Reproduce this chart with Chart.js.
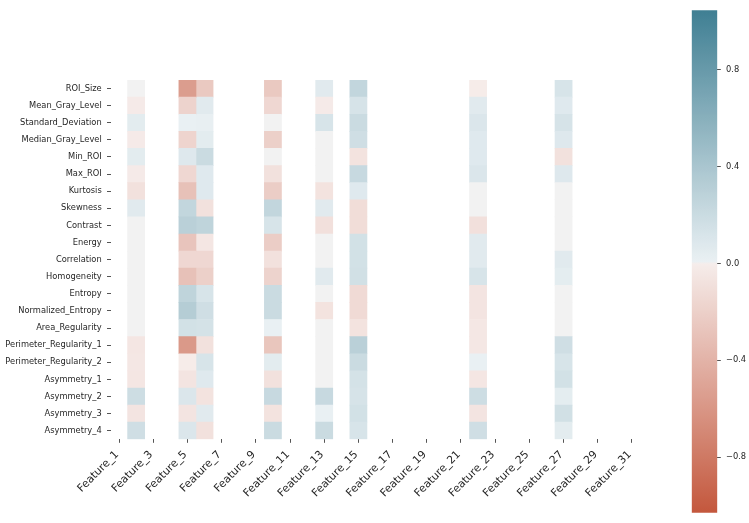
<!DOCTYPE html>
<html><head><meta charset="utf-8">
<script src="https://cdn.jsdelivr.net/npm/chart.js@4.4.1/dist/chart.umd.min.js"></script>
<style>
html,body{margin:0;padding:0;background:#fff;}
#wrap{position:relative;width:749px;height:523px;overflow:hidden;}
#heat{position:absolute;left:0;top:0;}
#cbar{position:absolute;left:680px;top:0;}
</style></head><body>
<div id="wrap">
<canvas id="heat" width="749" height="523"></canvas>
<canvas id="cbar" width="69" height="523"></canvas>
</div>
<script>
// ---- categories ----
const features = ['Feature_1','Feature_2','Feature_3','Feature_4','Feature_5','Feature_6','Feature_7','Feature_8',
  'Feature_9','Feature_10','Feature_11','Feature_12','Feature_13','Feature_14','Feature_15','Feature_16',
  'Feature_17','Feature_18','Feature_19','Feature_20','Feature_21','Feature_22','Feature_23','Feature_24',
  'Feature_25','Feature_26','Feature_27','Feature_28','Feature_29','Feature_30','Feature_31'];
const rowLabels = ['ROI_Size','Mean_Gray_Level','Standard_Deviation','Median_Gray_Level','Min_ROI','Max_ROI',
  'Kurtosis','Skewness','Contrast','Energy','Correlation','Homogeneity','Entropy','Normalized_Entropy',
  'Area_Regularity','Perimeter_Regularity_1','Perimeter_Regularity_2','Asymmetry_1','Asymmetry_2',
  'Asymmetry_3','Asymmetry_4'];
const xTickLabels = ['Feature_1','Feature_3','Feature_5','Feature_7','Feature_9','Feature_11','Feature_13',
  'Feature_15','Feature_17','Feature_19','Feature_21','Feature_23','Feature_25','Feature_27','Feature_29','Feature_31'];

// ---- series values (one per non-empty feature column, rows in rowLabels order) ----
const dataColumns = ['Feature_2','Feature_5','Feature_6','Feature_10','Feature_13','Feature_15','Feature_22','Feature_27'];
const feature_2  = [0, -0.02, 0.05, -0.02, 0.05, -0.02, -0.08, 0.06, 0, 0, 0, 0, 0, 0, 0, -0.05, -0.04, -0.05, 0.18, -0.06, 0.17];
const feature_5  = [-0.55, -0.18, 0.01, -0.17, 0.08, -0.15, -0.3, 0.25, 0.3, -0.28, -0.15, -0.3, 0.27, 0.33, 0.15, -0.58, -0.01, -0.06, 0.1, -0.06, 0.1];
const feature_6  = [-0.25, 0.06, 0.02, 0.05, 0.2, 0.07, 0.07, -0.08, 0.27, -0.05, -0.15, -0.2, 0.12, 0.17, 0.14, -0.08, 0.12, 0.07, -0.07, 0.06, -0.08];
const feature_10 = [-0.25, -0.15, 0, -0.2, 0, -0.08, -0.22, 0.25, 0.12, -0.22, -0.08, -0.18, 0.2, 0.2, 0.01, -0.27, 0.05, -0.08, 0.22, -0.07, 0.2];
const feature_13 = [0.06, -0.02, 0.12, 0, 0, 0, -0.07, 0.06, -0.09, 0, 0, 0.06, 0, -0.07, 0, 0, 0, 0, 0.22, 0.01, 0.2];
const feature_15 = [0.25, 0.13, 0.2, 0.17, -0.07, 0.22, 0.07, -0.11, -0.11, 0.15, 0.15, 0.16, -0.13, -0.13, -0.07, 0.3, 0.2, 0.14, 0.13, 0.15, 0.12];
const feature_22 = [-0.01, 0.06, 0.1, 0.07, 0.07, 0.1, 0, 0, -0.09, 0.06, 0.06, 0.12, -0.06, -0.06, -0.04, -0.04, 0.01, -0.05, 0.18, -0.06, 0.17];
const feature_27 = [0.12, 0.07, 0.13, 0.08, -0.08, 0.08, 0, 0, 0, 0, 0.06, 0.04, 0, 0, 0, 0.17, 0.12, 0.15, 0.04, 0.16, 0.05];
const columnValues = [feature_2, feature_5, feature_6, feature_10, feature_13, feature_15, feature_22, feature_27];

// ---- colorbar ticks ----
const cbTicks = [0.8, 0.4, 0.0, -0.4, -0.8];
const cbTickLabels = ['0.8', '0.4', '0.0', '\u22120.4', '\u22120.8'];
const cbMin = -1.03, cbMax = 1.046;

// ---- colormap (diverging, red -> light gray -> teal blue) ----
const NEG_END = [195, 85, 58], NEG_LIGHT = [246, 237, 235], MID = [242, 242, 242],
      POS_LIGHT = [235, 241, 244], POS_END = [63, 127, 147];
const VRANGE = 1.046;
function colorFor(v) {
  if (Math.abs(v) < 1e-9) return `rgb(${MID.join(',')})`;
  const t = Math.min(Math.abs(v) / VRANGE, 1);
  const a = v > 0 ? POS_LIGHT : NEG_LIGHT, b = v > 0 ? POS_END : NEG_END;
  const c = a.map((x, i) => Math.round(x + (b[i] - x) * t));
  return `rgb(${c.join(',')})`;
}

const FONT_Y = {family: "'DejaVu Sans', sans-serif", size: 8.3};
const FONT_X = {family: "'DejaVu Sans', sans-serif", size: 10.8};
const TXT = '#262626';
const TICKC = '#555';

const datasets = dataColumns.map((name, k) => {
  const col = features.indexOf(name);
  const vals = columnValues[k];
  return {
    label: name,
    data: vals.map(() => [col - 0.5, col + 0.5]),
    backgroundColor: vals.map(colorFor),
    borderWidth: 0,
    grouped: false,
    categoryPercentage: 1,
    barPercentage: 1
  };
});

new Chart(document.getElementById('heat'), {
  type: 'bar',
  data: {labels: rowLabels, datasets},
  options: {
    indexAxis: 'y',
    responsive: false,
    animation: false,
    layout: {padding: {left: 0, top: 80, right: 108.5, bottom: 0}},
    plugins: {legend: {display: false}, tooltip: {enabled: false}},
    scales: {
      x: {
        type: 'linear', position: 'bottom',
        min: -0.5, max: features.length - 0.5,
        afterBuildTicks: s => { s.ticks = xTickLabels.map(l => ({value: features.indexOf(l)})); },
        afterFit: s => { s.height = 83.7; },
        grid: {display: true, drawOnChartArea: false, drawTicks: true, tickLength: 3.5, color: TICKC, lineWidth: 1},
        border: {display: false},
        ticks: {autoSkip: false, maxRotation: 45, minRotation: 45, padding: 5.5, labelOffset: -2,
                color: TXT, font: FONT_X, callback: v => features[v]}
      },
      y: {
        type: 'category', offset: true,
        afterFit: s => { s.width = 110.5; },
        grid: {display: true, offset: false, drawOnChartArea: false, drawTicks: true, tickLength: 3.5, color: TICKC, lineWidth: 1},
        border: {display: false},
        ticks: {padding: 5.3, color: TXT, font: FONT_Y, autoSkip: false}
      }
    }
  }
});

function cbGradient(ctx) {
  const chart = ctx.chart;
  const area = chart.chartArea;
  if (!area) return null;
  const y = chart.scales.y;
  const g = chart.ctx.createLinearGradient(0, y.getPixelForValue(cbMin), 0, y.getPixelForValue(cbMax));
  const N = 200;
  for (let i = 0; i <= N; i++) {
    const v = cbMin + (cbMax - cbMin) * i / N;
    g.addColorStop(i / N, colorFor(v));
  }
  return g;
}

new Chart(document.getElementById('cbar'), {
  type: 'bar',
  data: {labels: [''], datasets: [{data: [[cbMin, cbMax]], backgroundColor: cbGradient, borderWidth: 0,
    categoryPercentage: 1, barPercentage: 1}]},
  options: {
    responsive: false,
    animation: false,
    layout: {padding: {left: 11.7, top: 0, right: 0, bottom: 7}},
    plugins: {legend: {display: false}, tooltip: {enabled: false}},
    scales: {
      x: {display: false},
      y: {
        position: 'right', min: cbMin, max: cbMax,
        afterBuildTicks: s => { s.ticks = cbTicks.map(v => ({value: v})); },
        afterFit: s => { s.width = 31.7; },
        grid: {display: true, drawOnChartArea: false, drawTicks: true, tickLength: 3.5, color: TICKC, lineWidth: 1},
        border: {display: false},
        ticks: {padding: 5.2, color: TXT, font: FONT_Y,
                callback: v => cbTickLabels[cbTicks.findIndex(t => Math.abs(t - v) < 1e-9)]}
      }
    }
  }
});
</script>
</body></html>
